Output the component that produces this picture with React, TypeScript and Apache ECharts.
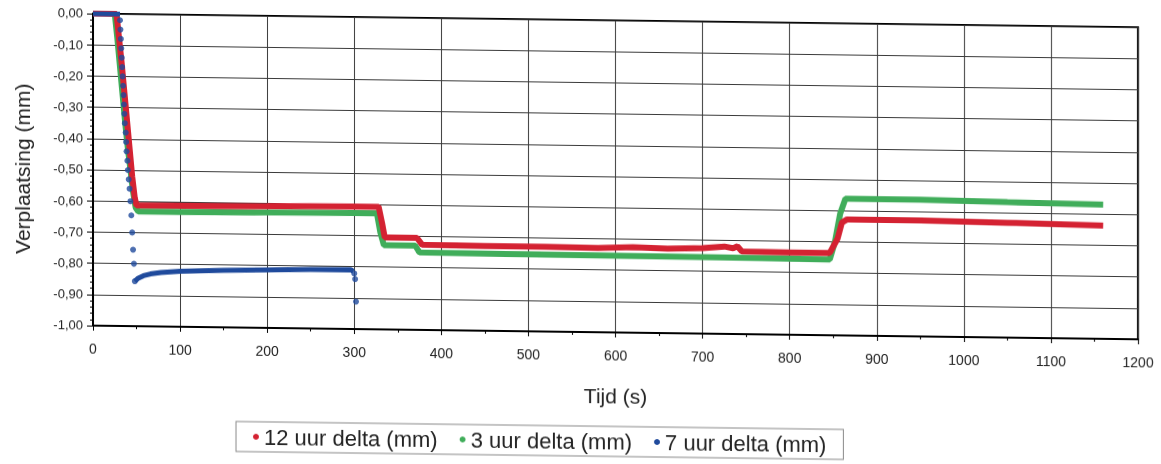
import React, { useEffect, useRef } from "react";
import * as echarts from "echarts";

const SERIES_NAMES = ["12 uur delta (mm)", "3 uur delta (mm)", "7 uur delta (mm)"];
const COLORS = ["#d42232", "#40ad5a", "#1f4a9c"];

// 12 uur delta (mm): [tijd (s), verplaatsing (mm)]
const red12: [number, number][] = [
  [0, 0], [27, 0], [30, -0.08], [33, -0.16], [36, -0.25], [39, -0.34], [42, -0.43],
  [45, -0.52], [48, -0.59], [50, -0.613], [100, -0.612], [150, -0.611], [200, -0.61],
  [250, -0.608], [300, -0.607], [328, -0.607], [332, -0.66], [335, -0.705], [372, -0.705],
  [378, -0.727], [450, -0.728], [520, -0.728], [580, -0.73], [620, -0.726], [660, -0.729],
  [700, -0.726], [725, -0.72], [735, -0.725], [740, -0.719], [745, -0.735], [800, -0.736],
  [846, -0.736], [855, -0.69], [860, -0.638], [866, -0.628], [950, -0.628], [1050, -0.632],
  [1160, -0.637],
];

// 3 uur delta (mm)
const green3: [number, number][] = [
  [0, 0], [25, 0], [28, -0.08], [31, -0.17], [34, -0.26], [37, -0.35], [40, -0.43],
  [43, -0.5], [46, -0.57], [49, -0.62], [52, -0.632], [100, -0.632], [200, -0.63],
  [300, -0.628], [326, -0.628], [330, -0.69], [334, -0.73], [370, -0.73], [375, -0.752],
  [500, -0.753], [600, -0.754], [700, -0.755], [846, -0.757], [852, -0.7], [858, -0.61],
  [864, -0.562], [950, -0.562], [1050, -0.566], [1160, -0.57],
];

// 7 uur delta (mm): flat start, drop (separate dots), tail, end dots
const blue7Start: [number, number][] = [[0, 0], [31, 0]];
const blue7Drop: [number, number][] = [
  [31, -0.02], [31.5, -0.05], [32, -0.08], [32.5, -0.11], [33, -0.14], [33.5, -0.17],
  [34, -0.2], [34.5, -0.23], [35, -0.26], [35.5, -0.29], [36, -0.32], [36.5, -0.35],
  [37.5, -0.38], [38, -0.41], [38.5, -0.44], [39.5, -0.47], [40, -0.5], [41, -0.53],
  [42, -0.56], [43, -0.6], [44, -0.645], [45, -0.7], [46, -0.755], [47, -0.8], [48, -0.856],
];
const blue7Tail: [number, number][] = [
  [48, -0.856], [52, -0.846], [58, -0.838], [66, -0.832], [78, -0.827], [100, -0.822],
  [150, -0.817], [200, -0.814], [250, -0.811], [296, -0.81], [299, -0.815],
];
const blue7End: [number, number][] = [[300, -0.822], [301, -0.84], [302, -0.912]];

const X_MIN = 0, X_MAX = 1200, X_STEP = 100;
const Y_MIN = -1, Y_MAX = 0, Y_STEP = 0.1;

const FONT = "'Liberation Sans', Arial, sans-serif";

export default function App() {
  const ref = useRef<HTMLDivElement>(null);
  useEffect(() => {
    if (!ref.current) return;
    const chart = echarts.init(ref.current, undefined, { renderer: "svg" });
    const lineSeries = (name: string, color: string, data: [number, number][], width: number, z = 2) => ({
      name, type: "line", data, showSymbol: false, symbol: "circle", color, z,
      lineStyle: { color, width }, itemStyle: { color }, emphasis: { disabled: true },
    });
    const dotSeries = (name: string, color: string, data: [number, number][]) => ({
      name, type: "scatter", data, symbol: "circle", symbolSize: 6, color, z: 3,
      itemStyle: { color }, emphasis: { disabled: true },
    });
    chart.setOption({
      animation: false,
      backgroundColor: "#ffffff",
      textStyle: { fontFamily: FONT },
      grid: {
        left: 93, right: 23, top: 20, bottom: 132,
        show: true, borderColor: "#000", borderWidth: 2, backgroundColor: "transparent",
      },
      legend: {
        left: 236, top: 426,
        data: SERIES_NAMES.map((n) => ({ name: n, icon: "circle" })),
        itemWidth: 6, itemHeight: 6, itemGap: 22,
        padding: [4, 17],
        borderColor: "#8a8a8a", borderWidth: 1,
        textStyle: { fontSize: 22, color: "#222", fontFamily: FONT },
      },
      xAxis: {
        type: "value", min: X_MIN, max: X_MAX, interval: X_STEP,
        name: "Tijd (s)", nameLocation: "middle", nameGap: 53,
        nameTextStyle: { fontSize: 21, color: "#222", fontFamily: FONT },
        axisLine: { show: true, onZero: false, lineStyle: { color: "#000", width: 2 } },
        axisTick: { show: true, length: 5, lineStyle: { color: "#000" } },
        minorTick: { show: true, splitNumber: 2, length: 3, lineStyle: { color: "#000" } },
        axisLabel: {
          fontSize: 14, color: "#222", margin: 16, fontFamily: FONT,
          formatter: (v: number) => String(v),
        },
        splitLine: { show: true, lineStyle: { color: "#3a3a3a", width: 1 } },
      },
      yAxis: {
        type: "value", min: Y_MIN, max: Y_MAX, interval: Y_STEP,
        name: "Verplaatsing (mm)", nameLocation: "middle", nameGap: 60,
        nameTextStyle: { fontSize: 21, color: "#222", fontFamily: FONT },
        axisLine: { show: true, onZero: false, lineStyle: { color: "#000", width: 2 } },
        axisTick: { show: true, length: 6, lineStyle: { color: "#000" } },
        minorTick: { show: true, splitNumber: 5, length: 3, lineStyle: { color: "#000" } },
        axisLabel: {
          fontSize: 13, color: "#222", margin: 10, fontFamily: FONT,
          formatter: (v: number) => v.toFixed(2).replace(".", ","),
        },
        splitLine: { show: true, lineStyle: { color: "#3a3a3a", width: 1 } },
      },
      series: [
        lineSeries(SERIES_NAMES[0], COLORS[0], red12, 6, 3),
        lineSeries(SERIES_NAMES[1], COLORS[1], green3, 6, 2),
        lineSeries(SERIES_NAMES[2], COLORS[2], blue7Start, 5, 4),
        dotSeries(SERIES_NAMES[2], COLORS[2], blue7Drop),
        lineSeries(SERIES_NAMES[2], COLORS[2], blue7Tail, 5, 4),
        dotSeries(SERIES_NAMES[2], COLORS[2], blue7End),
      ],
    });
    return () => chart.dispose();
  }, []);
  return (
    <div
      ref={ref}
      style={{
        position: "fixed", left: 0, top: 0, width: 1161, height: 464, background: "#fff",
        transform: "skewY(0.75deg)", transformOrigin: "580px 232px",
      }}
    />
  );
}
